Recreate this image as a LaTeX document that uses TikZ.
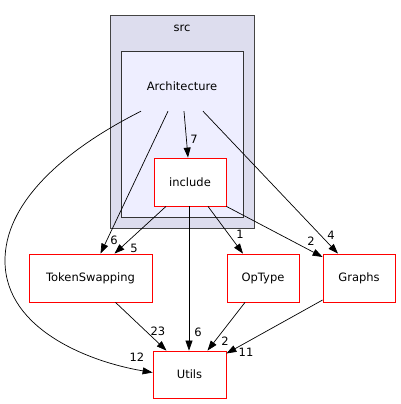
\documentclass[tikz,border=0pt]{standalone}
\usepackage{fontspec}
\setmainfont{DejaVu Sans}
\usetikzlibrary{arrows.meta}
\definecolor{srcfill}{HTML}{DDDDEE}
\definecolor{archfill}{HTML}{EEEEFF}
\definecolor{clborder}{HTML}{444444}
\begin{document}
\begin{tikzpicture}[x=1pt,y=-1pt,
  dirbox/.style={draw=red, fill=white, line width=0.8pt, inner sep=0pt, font=\fontsize{11.5}{13}\selectfont},
  lbl/.style={inner sep=0pt, font=\fontsize{11.5}{13}\selectfont},
  edge/.style={draw=black, line width=0.7pt, -{Triangle[length=10pt,width=7pt]}},
  txt/.style={inner sep=0pt, font=\fontsize{11.5}{13}\selectfont}]
\useasboundingbox (0,0) rectangle (401,404);
% clusters
\draw[clborder, fill=srcfill, line width=1pt] (110,16) rectangle (254,228);
\node[txt] (srclbl) at (182,28) {src};
\draw[black!80, fill=archfill, line width=1pt] (121,52) rectangle (243,217);
\node[txt, minimum width=90pt, minimum height=50pt] (arch) at (182,86) {Architecture};
% nodes
\node[dirbox, minimum width=72pt, minimum height=48pt] (inc) at (190,182) {include};
\node[dirbox, minimum width=123pt, minimum height=48pt] (tok) at (90.5,278) {TokenSwapping};
\node[dirbox, minimum width=72pt, minimum height=48pt] (op) at (263,278) {OpType};
\node[dirbox, minimum width=72pt, minimum height=48pt] (gr) at (359,278) {Graphs};
\node[dirbox, minimum width=73pt, minimum height=47pt] (ut) at (189.5,374.5) {Utils};
% edges
\draw[edge] ([xshift=2pt]arch.south) -- ([xshift=-2pt]inc.north);
\node[lbl] (l1) at (194,139) {7};
\draw[edge] ([xshift=-41pt]arch.south) .. controls (60,152) and (4,205) .. (5,262)
  .. controls (6,330) and (90,362) .. ([yshift=2pt]ut.west);
\node[lbl] (l2) at (137,357) {12};
\draw[edge] ([xshift=-14pt]arch.south) -- ([xshift=10pt]tok.north);
\node[lbl] (l3) at (114,240) {6};
\draw[edge] ([xshift=21pt]arch.south) -- ([xshift=-21pt]gr.north);
\node[lbl] (l4) at (331,235) {4};
\draw[edge] ([xshift=-24pt]inc.south) -- ([xshift=24pt]tok.north);
\node[lbl] (l5) at (134,248) {5};
\draw[edge] ([xshift=-1pt]inc.south) -- ([xshift=-0.5pt]ut.north);
\node[lbl] (l6) at (198,332) {6};
\draw[edge] ([xshift=18pt]inc.south) -- ([xshift=-20pt]op.north);
\node[lbl] (l7) at (240,234) {1};
\draw[edge] (inc.south east) -- ([yshift=21pt]gr.west);
\node[lbl] (l8) at (311,241) {2};
\draw[edge] ([xshift=25pt]tok.south) -- ([xshift=-23pt]ut.north);
\node[lbl] (l9) at (158,331) {23};
\draw[edge] ([xshift=-18pt]op.south) -- ([xshift=18pt]ut.north);
\node[lbl] (l10) at (225,341) {2};
\draw[edge] ([yshift=-22pt]gr.west) -- ([yshift=21pt]ut.east);
\node[lbl] (l11) at (246,352) {11};
\end{tikzpicture}
\end{document}
